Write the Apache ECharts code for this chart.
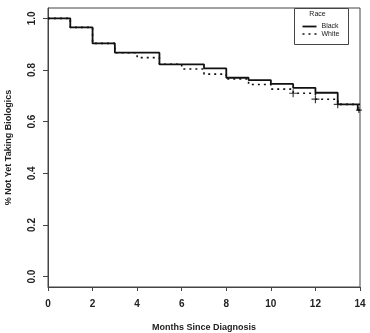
<!DOCTYPE html>
<html>
<head>
<meta charset="utf-8">
<script src="https://cdn.jsdelivr.net/npm/echarts@6/dist/echarts.min.js"></script>
<style>
  html, body { margin: 0; padding: 0; background: #fff; }
  #chart { width: 370px; height: 333px; }
</style>
</head>
<body>
<div id="chart"></div>
<script>
// Kaplan-Meier steps: [month, proportion not yet on biologics]
var blackSteps = [[0, 1], [1, 0.965], [2, 0.903], [3, 0.867], [5, 0.822], [7, 0.806], [8, 0.77],
  [9, 0.761], [10, 0.746], [11, 0.731], [12, 0.712], [13, 0.667], [13.9, 0.645], [14, 0.645]]
var whiteSteps = [[0, 1], [1, 0.965], [2, 0.903], [3, 0.867], [4, 0.848], [5, 0.822], [6, 0.804],
  [7, 0.784], [8, 0.765], [9, 0.744], [10, 0.726], [11, 0.71], [12, 0.687], [13, 0.667], [14, 0.667]]
var whiteCensored = [[11, 0.71], [12, 0.687], [13, 0.667]]
var blackCensored = [[13.95, 0.645]]
var yTicks = [0, 0.2, 0.4, 0.6, 0.8, 1.0]
var xTicks = [0, 2, 4, 6, 8, 10, 12, 14]
var legendNames = ['Black', 'White']

var plus = 'path://M5,0L5,10M0,5L10,5'
var fontFamily = '"Liberation Sans", Arial, sans-serif'
var axisColor = '#444'
var textColor = '#222'
var lineColor = '#111'

var chart = echarts.init(document.getElementById('chart'), null, { renderer: 'canvas' })

// R-style legend box, drawn by hand (the echarts legend adds symbols to the line icons)
var legendBox = {
  type: 'group',
  left: 294,
  top: 8,
  children: [
    { type: 'rect', shape: { x: 0, y: 0, width: 54, height: 36 }, style: { fill: '#fff', stroke: axisColor, lineWidth: 1 } },
    { type: 'text', x: 23, y: 6, style: { text: 'Race', fontSize: 7, fill: textColor, fontFamily: fontFamily, align: 'center', verticalAlign: 'middle' } },
    { type: 'line', shape: { x1: 8, y1: 18, x2: 22, y2: 18 }, style: { stroke: lineColor, lineWidth: 1.8 } },
    { type: 'line', shape: { x1: 8, y1: 25.5, x2: 22, y2: 25.5 }, style: { stroke: lineColor, lineWidth: 1.6, lineDash: [2, 4] } },
    { type: 'text', x: 27, y: 18, style: { text: legendNames[0], fontSize: 7, fill: textColor, fontFamily: fontFamily, verticalAlign: 'middle' } },
    { type: 'text', x: 27, y: 25.5, style: { text: legendNames[1], fontSize: 7, fill: textColor, fontFamily: fontFamily, verticalAlign: 'middle' } }
  ],
  z: 10
}

chart.setOption({
  animation: false,
  textStyle: { fontFamily: fontFamily },
  grid: {
    left: 48,
    right: 10,
    top: 8,
    bottom: 46,
    outerBoundsMode: 'none',
    containLabel: false,
    show: true,
    borderColor: axisColor,
    borderWidth: 1
  },
  graphic: [legendBox],
  xAxis: {
    type: 'value',
    min: 0,
    max: 14,
    interval: 2,
    name: 'Months Since Diagnosis',
    nameLocation: 'middle',
    nameGap: 36,
    nameTextStyle: { fontSize: 9, fontWeight: 'bold', color: textColor },
    axisLine: { show: true, onZero: false, lineStyle: { color: axisColor } },
    axisTick: { show: true, length: 4, lineStyle: { color: axisColor } },
    axisLabel: {
      margin: 12,
      fontSize: 10,
      fontWeight: 'bold',
      color: textColor,
      customValues: xTicks
    },
    splitLine: { show: false }
  },
  yAxis: {
    type: 'value',
    min: -0.04,
    max: 1.04,
    name: '% Not Yet Taking Biologics',
    nameLocation: 'middle',
    nameGap: 35,
    nameTextStyle: { fontSize: 9, fontWeight: 'bold', color: textColor },
    axisLine: { show: true, onZero: false, lineStyle: { color: axisColor } },
    axisTick: { show: true, length: 5, lineStyle: { color: axisColor }, customValues: yTicks },
    axisLabel: {
      margin: 11,
      rotate: 90,
      fontSize: 10,
      fontWeight: 'bold',
      color: textColor,
      customValues: yTicks,
      formatter: function (v) { return v.toFixed(1) }
    },
    splitLine: { show: false }
  },
  series: [
    {
      name: 'White',
      type: 'line',
      step: 'end',
      symbol: 'none',
      lineStyle: { color: lineColor, width: 1.6, type: [2, 4] },
      data: whiteSteps,
      z: 2
    },
    {
      name: 'Black',
      type: 'line',
      step: 'end',
      symbol: 'none',
      lineStyle: { color: lineColor, width: 1.8 },
      data: blackSteps,
      z: 3
    },
    {
      name: 'White censored',
      type: 'scatter',
      symbol: plus,
      symbolSize: 8,
      itemStyle: { color: 'none', borderColor: lineColor, borderWidth: 1.2 },
      data: whiteCensored,
      z: 4
    },
    {
      name: 'Black censored',
      type: 'scatter',
      symbol: plus,
      symbolSize: 6,
      itemStyle: { color: 'none', borderColor: lineColor, borderWidth: 1.2 },
      data: blackCensored,
      z: 4
    }
  ]
})
</script>
</body>
</html>
